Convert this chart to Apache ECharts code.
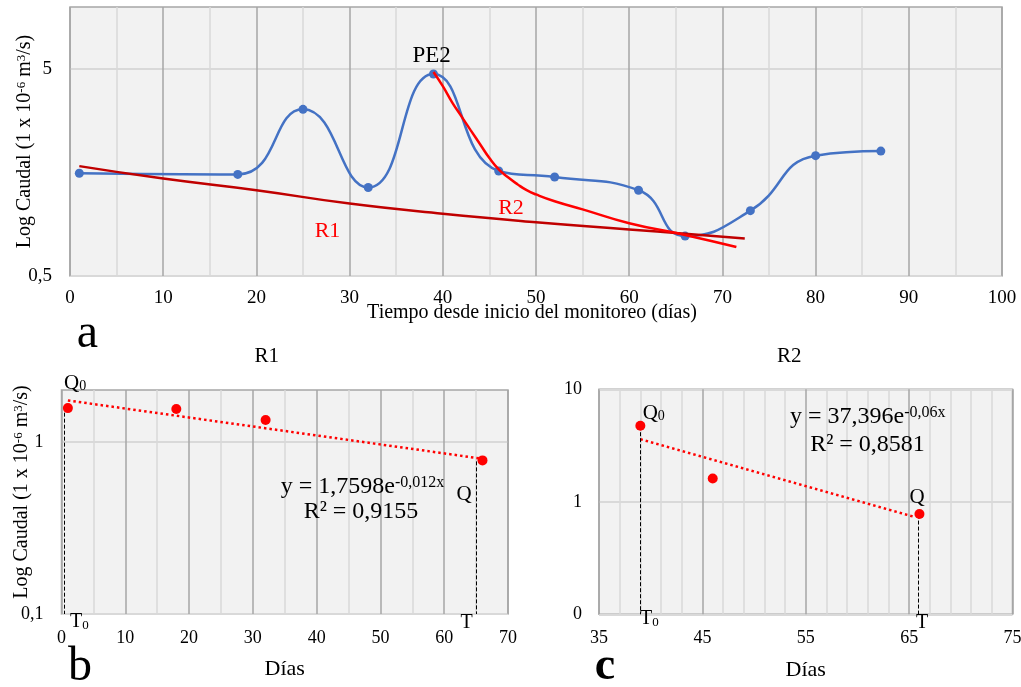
<!DOCTYPE html>
<html>
<head>
<meta charset="utf-8">
<script src="https://cdn.jsdelivr.net/npm/echarts@6/dist/echarts.min.js"></script>
<style>
  html, body { margin: 0; padding: 0; background: #ffffff; }
  #chart { width: 1021px; height: 687px; }
</style>
</head>
<body>
<div id="chart"></div>
<script>
// Monitoring record: day since start and flow (1 x 10^-6 m3/s)
const days   = [1, 18, 25, 32, 39, 46, 52, 61, 66, 73, 80, 87];
const caudal = [1.57, 1.55, 3.2, 1.34, 4.74, 1.61, 1.505, 1.30, 0.78, 1.035, 1.91, 2.01];

// Recession curves traced over the hydrograph
const r1CurveDays = [1, 10, 20, 30, 40, 50, 60, 66, 72.4];
const r1CurveQ    = [1.70, 1.48, 1.30, 1.12, 1.00, 0.91, 0.84, 0.80, 0.76];
const r2CurveDays = [39, 40, 41, 42, 43, 44, 45, 46, 47, 48, 49, 50, 52, 55, 60, 66, 71.5];
const r2CurveQ    = [4.85, 4.14, 3.46, 2.96, 2.53, 2.17, 1.86, 1.64, 1.50, 1.39, 1.30, 1.24, 1.15, 1.05, 0.90, 0.79, 0.69];

// Days used in each recession fit
const r1Days = [1, 18, 32, 66];
const r2Days = [39, 46, 66];

// Exponential fits y = a * e^(b x) and their R²
const r1Coef = [1.7598, -0.012];
const r2Coef = [37.396, -0.06];
const r1R2 = 0.9155;
const r2R2 = 0.8581;
const r1TrendSpan = [1, 65.5];
const r2TrendSpan = [39, 65.4];

// Drop lines marking T0 / T (x, flow at top)
const r1Drops = [[0.4, 1.6], [65.1, 0.77]];
const r2Drops = [[39.03, 4.7], [65.85, 0.77]];

// Tick values
const aYTicks = [0.5, 5];
const bYTicks = [0.1, 1];
const cYTicks = [0.1, 1, 10];
const cXTicks = [35, 45, 55, 65, 75];
const cXMinor = [37, 39, 41, 43, 47, 49, 51, 53, 57, 59, 61, 63, 67, 69, 71, 73];

const serif = '"Liberation Serif", "Times New Roman", serif';
const ink = '#000000';
const majorGrid = '#a6a6a6';
const minorGrid = '#d9d9d9';
const comma = v => String(v).replace('.', ',');

const qAt = d => caudal[days.indexOf(d)];
const fitLine = (coef, span) => span.map(x => [x, coef[0] * Math.exp(coef[1] * x)]);

const gridBase = {
  show: true, backgroundColor: '#f2f2f2', borderColor: '#a6a6a6', borderWidth: 1.5,
  containLabel: false, outerBoundsMode: 'none'
};

const labelStyle = size => ({ fontFamily: serif, fontSize: size, color: ink });

const yName = '{n|Log Caudal (1 x 10}{s|-6}{n| m}{s|3}{n|/s)}';
const yNameStyle = extra => Object.assign({
  fontFamily: serif, fontSize: 20, color: ink,
  rich: {
    n: { fontFamily: serif, fontSize: 20, color: ink },
    s: { fontFamily: serif, fontSize: 13, color: ink, verticalAlign: 'top' }
  }
}, extra || {});

function xAxisBase(extra) {
  return Object.assign({
    type: 'value',
    axisLine: { show: false },
    axisTick: { show: false },
    splitLine: { show: true, lineStyle: { color: majorGrid, width: 1.5 } },
    nameLocation: 'middle',
    nameMoveOverlap: false,
    showMinLabel: true,
    showMaxLabel: true
  }, extra);
}

function yAxisBase(extra) {
  return Object.assign({
    type: 'log', logBase: 10,
    axisLine: { show: false },
    splitLine: { show: true, lineStyle: { color: minorGrid, width: 2 } },
    nameLocation: 'middle',
    nameMoveOverlap: false
  }, extra);
}

function text(x, y, str, size, opt) {
  opt = opt || {};
  const color = opt.color || ink;
  const sub = Math.round(size * 0.66);
  return {
    type: 'text', x: x, y: y, silent: true, z: 100,
    style: {
      text: str, fontFamily: serif, fontSize: size, fontWeight: opt.bold ? 'bold' : 'normal',
      fill: color, align: opt.align || 'center', verticalAlign: 'middle',
      rich: {
        m: { fontFamily: serif, fontSize: size, fill: color },
        sup: { fontFamily: serif, fontSize: opt.supSize || sub, fill: color, verticalAlign: 'top' },
        sub: { fontFamily: serif, fontSize: sub, fill: color, verticalAlign: 'bottom' }
      }
    }
  };
}

const eqText = coef => '{m|y = ' + comma(coef[0]) + 'e}{sup|' + comma(coef[1]) + 'x}';
const r2Text = v => 'R² = ' + comma(v);

const dropLine = (drops) => ({
  silent: true, symbol: 'none', animation: false,
  label: { show: false },
  lineStyle: { color: '#000000', width: 1, type: [4, 2] },
  data: drops.map(d => [{ coord: [d[0], d[1]] }, { coord: [d[0], 0.1] }])
});

const chart = echarts.init(document.getElementById('chart'), null, { renderer: 'canvas' });

chart.setOption({
  animation: false,
  backgroundColor: '#ffffff',
  grid: [
    Object.assign({ left: 70, top: 7, width: 932, height: 269 }, gridBase),
    Object.assign({ left: 61.5, top: 390, width: 446.5, height: 224 }, gridBase),
    Object.assign({ left: 599, top: 389.3, width: 413.5, height: 225 }, gridBase)
  ],
  xAxis: [
    xAxisBase({
      gridIndex: 0, min: 0, max: 100, interval: 10,
      axisLabel: Object.assign({ margin: 12.5 }, labelStyle(19)),
      minorTick: { show: false, splitNumber: 2 },
      minorSplitLine: { show: true, lineStyle: { color: minorGrid, width: 1.5 } },
      name: 'Tiempo desde inicio del monitoreo (días)', nameGap: 27,
      nameTextStyle: Object.assign({ padding: [0, 8, 0, 0] }, labelStyle(20))
    }),
    xAxisBase({
      gridIndex: 1, min: 0, max: 70, interval: 10,
      axisLabel: Object.assign({ margin: 15 }, labelStyle(18)),
      minorTick: { show: false, splitNumber: 2 },
      minorSplitLine: { show: true, lineStyle: { color: minorGrid, width: 1.5 } },
      name: 'Días', nameGap: 44, nameTextStyle: labelStyle(22)
    }),
    xAxisBase({
      gridIndex: 2, min: 35, max: 75,
      axisTick: { show: false, customValues: cXTicks },
      axisLabel: Object.assign({ margin: 15, customValues: cXTicks }, labelStyle(18)),
      name: 'Días', nameGap: 44.7, nameTextStyle: labelStyle(22)
    }),
    // light two-day gridlines of panel c
    xAxisBase({
      gridIndex: 2, min: 35, max: 75,
      axisTick: { show: false, customValues: cXMinor },
      axisLabel: { show: false },
      splitLine: { show: true, lineStyle: { color: minorGrid, width: 1.5 } }
    })
  ],
  yAxis: [
    yAxisBase({
      gridIndex: 0, min: 0.5, max: 10,
      axisTick: { show: false, customValues: aYTicks },
      axisLabel: Object.assign({ margin: 18, customValues: aYTicks, formatter: comma }, labelStyle(19)),
      name: yName, nameGap: 35, nameTextStyle: yNameStyle()
    }),
    yAxisBase({
      gridIndex: 1, min: 0.1, max: 2,
      axisTick: { show: false, customValues: bYTicks },
      axisLabel: Object.assign({ margin: 18, customValues: bYTicks, formatter: comma }, labelStyle(18)),
      name: yName, nameGap: 29.5, nameTextStyle: yNameStyle({ padding: [0, 0, 0, 20] })
    }),
    yAxisBase({
      gridIndex: 2, min: 0.1, max: 10,
      axisTick: { show: false, customValues: cYTicks },
      axisLabel: Object.assign({ margin: 17, customValues: cYTicks,
        formatter: v => String(Math.round(v)) }, labelStyle(18))
    })
  ],
  series: [
    {
      name: 'Caudal', type: 'line', xAxisIndex: 0, yAxisIndex: 0,
      data: days.map((d, i) => [d, caudal[i]]),
      smooth: 0.5, smoothConstraint: false, symbol: 'circle', symbolSize: 9,
      itemStyle: { color: '#4472c4' },
      lineStyle: { color: '#4472c4', width: 2.5 }, z: 3
    },
    {
      name: 'R1', type: 'line', xAxisIndex: 0, yAxisIndex: 0,
      data: r1CurveDays.map((d, i) => [d, r1CurveQ[i]]),
      smooth: 0.5, symbol: 'none',
      lineStyle: { color: '#c00000', width: 2.5 }, z: 4
    },
    {
      name: 'R2', type: 'line', xAxisIndex: 0, yAxisIndex: 0,
      data: r2CurveDays.map((d, i) => [d, r2CurveQ[i]]),
      smooth: 0.5, symbol: 'none',
      lineStyle: { color: '#ff0000', width: 2.5 }, z: 5
    },
    {
      name: 'R1 puntos', type: 'scatter', xAxisIndex: 1, yAxisIndex: 1,
      data: r1Days.map(d => [d, qAt(d)]),
      symbolSize: 10, itemStyle: { color: '#ff0000', opacity: 1 }, z: 5,
      markLine: dropLine(r1Drops)
    },
    {
      name: 'R1 ajuste', type: 'line', xAxisIndex: 1, yAxisIndex: 1,
      data: fitLine(r1Coef, r1TrendSpan), symbol: 'none',
      lineStyle: { color: '#ff0000', width: 2.5, type: [2.5, 3] }, z: 4
    },
    {
      name: 'R2 puntos', type: 'scatter', xAxisIndex: 2, yAxisIndex: 2,
      data: r2Days.map(d => [d, qAt(d)]),
      symbolSize: 10, itemStyle: { color: '#ff0000', opacity: 1 }, z: 5,
      markLine: dropLine(r2Drops)
    },
    {
      name: 'R2 ajuste', type: 'line', xAxisIndex: 2, yAxisIndex: 2,
      data: fitLine(r2Coef, r2TrendSpan), symbol: 'none',
      lineStyle: { color: '#ff0000', width: 2.5, type: [2.5, 3] }, z: 4
    }
  ],
  graphic: [
    // panel a
    text(431.7, 55.5, 'PE2', 23),
    text(327.5, 231.7, 'R1', 22, { color: '#ff0000' }),
    text(511, 208, 'R2', 22, { color: '#ff0000' }),
    text(87.5, 334, 'a', 48),
    // panel b
    text(266.7, 356, 'R1', 21),
    text(64, 383, '{m|Q}{sub|0}', 21, { align: 'left' }),
    text(70, 622, '{m|T}{sub|0}', 20, { align: 'left' }),
    text(464, 494.5, 'Q', 21),
    text(466.7, 623, 'T', 20),
    text(362.5, 487, eqText(r1Coef), 24, { supSize: 16 }),
    text(361, 512, r2Text(r1R2), 24),
    text(80, 667, 'b', 48),
    // panel c
    text(789.3, 356.7, 'R2', 21),
    text(642.7, 413, '{m|Q}{sub|0}', 21, { align: 'left' }),
    text(640, 619, '{m|T}{sub|0}', 20, { align: 'left' }),
    text(917, 497, 'Q', 21),
    text(922, 623, 'T', 20),
    text(867.8, 417, eqText(r2Coef), 24, { supSize: 16 }),
    text(867.5, 445, r2Text(r2R2), 24),
    text(605, 667.5, 'c', 46, { bold: true })
  ]
});
</script>
</body>
</html>
